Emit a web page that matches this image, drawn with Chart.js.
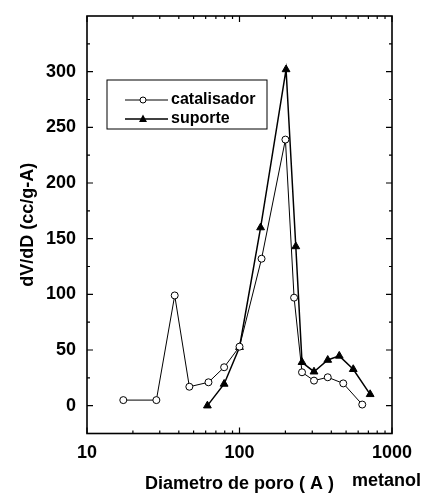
<!DOCTYPE html>
<html>
<head>
<meta charset="utf-8">
<script src="https://cdn.jsdelivr.net/npm/chart.js@4.4.1/dist/chart.umd.min.js"></script>
<style>
  html, body { margin: 0; padding: 0; background: #fff; }
  #wrap { width: 431px; height: 495px; }
</style>
</head>
<body>
<div id="wrap"><canvas id="grafico" width="431" height="495"></canvas></div>
<script>
// diametro de poro (A) vs dV/dD (cc/g-A)
const catX = [17.3, 28.5, 37.6, 46.9, 62.6, 79.3, 100, 139.5, 200, 228, 257, 308, 379, 479, 638];
const catY = [5, 5, 99, 17, 21, 34.5, 53, 132, 239, 97, 30, 22.5, 25.5, 20, 1];
const supX = [61.6, 79.3, 100, 137.5, 202, 234, 257, 308, 379, 451, 557, 719];
const supY = [0, 19.5, 52.5, 160, 302, 143, 39, 30.5, 41, 44.7, 32.7, 10.2];

const xTicks = [10, 100, 1000];
const yTicks = [0, 50, 100, 150, 200, 250, 300];
const nomes = ['catalisador', 'suporte'];

const FONT = "'Liberation Sans', Arial, sans-serif";

const toPoints = (xs, ys) => xs.map((x, i) => ({ x: x, y: ys[i] }));

// moldura + marcas para dentro nos quatro lados
const moldura = {
  id: 'moldura',
  afterDatasetsDraw(chart) {
    const { ctx, chartArea: a, scales: { x, y } } = chart;
    ctx.save();
    ctx.strokeStyle = '#000';
    ctx.lineWidth = 1.6;
    ctx.strokeRect(a.left, a.top, a.right - a.left, a.bottom - a.top);

    ctx.lineWidth = 1.2;
    const xMinor = [];
    [10, 100].forEach(d => { for (let k = 2; k <= 9; k++) xMinor.push(d * k); });
    const marcaX = (v, len) => {
      const px = x.getPixelForValue(v);
      ctx.beginPath();
      ctx.moveTo(px, a.bottom); ctx.lineTo(px, a.bottom - len);
      ctx.moveTo(px, a.top); ctx.lineTo(px, a.top + len);
      ctx.stroke();
    };
    xTicks.forEach(v => marcaX(v, 6));
    xMinor.forEach(v => marcaX(v, 3));

    const marcaY = (v, len) => {
      const py = y.getPixelForValue(v);
      ctx.beginPath();
      ctx.moveTo(a.left, py); ctx.lineTo(a.left + len, py);
      ctx.moveTo(a.right, py); ctx.lineTo(a.right - len, py);
      ctx.stroke();
    };
    yTicks.forEach(v => marcaY(v, 6));
    yTicks.concat([350]).forEach(v => { if (v - 25 > -25) marcaY(v - 25, 3); });
    ctx.restore();
  },
  afterDraw(chart) {
    const { ctx, chartArea: a } = chart;
    ctx.save();
    // legenda dentro do grafico
    const lx = a.left + 20, ly = a.top + 64, lw = 160, lh = 49;
    ctx.strokeStyle = '#000';
    ctx.lineWidth = 1;
    ctx.strokeRect(lx, ly, lw, lh);
    chart.data.datasets.forEach((ds, i) => {
      const ry = ly + 20 + i * 19;
      ctx.strokeStyle = '#000';
      ctx.lineWidth = ds.borderWidth;
      ctx.beginPath();
      ctx.moveTo(lx + 18, ry); ctx.lineTo(lx + 61, ry);
      ctx.stroke();
      const mx = lx + 36;
      ctx.lineWidth = 1;
      if (ds.pointStyle === 'triangle') {
        ctx.fillStyle = '#000';
        ctx.beginPath();
        ctx.moveTo(mx, ry - 4.5); ctx.lineTo(mx + 4, ry + 3); ctx.lineTo(mx - 4, ry + 3);
        ctx.closePath(); ctx.fill();
      } else {
        ctx.fillStyle = '#fff';
        ctx.beginPath(); ctx.arc(mx, ry, 3, 0, Math.PI * 2); ctx.fill(); ctx.stroke();
      }
      ctx.fillStyle = '#000';
      ctx.font = 'bold 16px ' + FONT;
      ctx.textBaseline = 'middle';
      ctx.textAlign = 'left';
      ctx.fillText(ds.label, lx + 64, ry);
    });
    // texto ao lado do titulo do eixo x
    ctx.font = 'bold 18px ' + FONT;
    ctx.textBaseline = 'middle';
    ctx.fillText('metanol', a.right - 40, 481);
    ctx.restore();
  }
};

new Chart(document.getElementById('grafico'), {
  type: 'line',
  data: {
    datasets: [
      {
        label: nomes[0],
        data: toPoints(catX, catY),
        borderColor: '#000',
        borderWidth: 1,
        pointStyle: 'circle',
        pointRadius: 3.5,
        pointBackgroundColor: '#fff',
        pointBorderColor: '#000',
        pointBorderWidth: 1,
        tension: 0
      },
      {
        label: nomes[1],
        data: toPoints(supX, supY),
        borderColor: '#000',
        borderWidth: 1.5,
        pointStyle: 'triangle',
        pointRadius: 4.5,
        pointBackgroundColor: '#000',
        pointBorderColor: '#000',
        pointBorderWidth: 1,
        tension: 0
      }
    ]
  },
  options: {
    responsive: false,
    animation: false,
    devicePixelRatio: 1,
    layout: {
      padding: { top: 16, right: 39, bottom: 0, left: 0 }
    },
    plugins: {
      legend: { display: false },
      tooltip: { enabled: false }
    },
    scales: {
      x: {
        type: 'logarithmic',
        min: 10,
        max: 1000,
        grid: { display: false },
        border: { display: false },
        afterBuildTicks: s => { s.ticks = xTicks.map(v => ({ value: v })); },
        afterFit: s => { s.height = 61.5; },
        ticks: {
          color: '#000',
          padding: 1,
          autoSkip: false,
          maxRotation: 0,
          font: { family: FONT, size: 18, weight: 'bold' },
          callback: v => String(v)
        },
        title: {
          display: true,
          text: 'Diametro de poro ( A )',
          color: '#000',
          font: { family: FONT, size: 18, weight: 'bold' },
          padding: { top: 0, bottom: 0 }
        }
      },
      y: {
        type: 'linear',
        min: -25,
        max: 350,
        grid: { display: false },
        border: { display: false },
        afterBuildTicks: s => { s.ticks = yTicks.map(v => ({ value: v })); },
        afterFit: s => { s.width = 87; },
        ticks: {
          color: '#000',
          padding: 3,
          font: { family: FONT, size: 18, weight: 'bold' }
        },
        title: {
          display: true,
          text: 'dV/dD (cc/g-A)',
          color: '#000',
          font: { family: FONT, size: 18, weight: 'bold' },
          padding: { top: 17, bottom: 0 }
        }
      }
    }
  },
  plugins: [moldura]
});
</script>
</body>
</html>
